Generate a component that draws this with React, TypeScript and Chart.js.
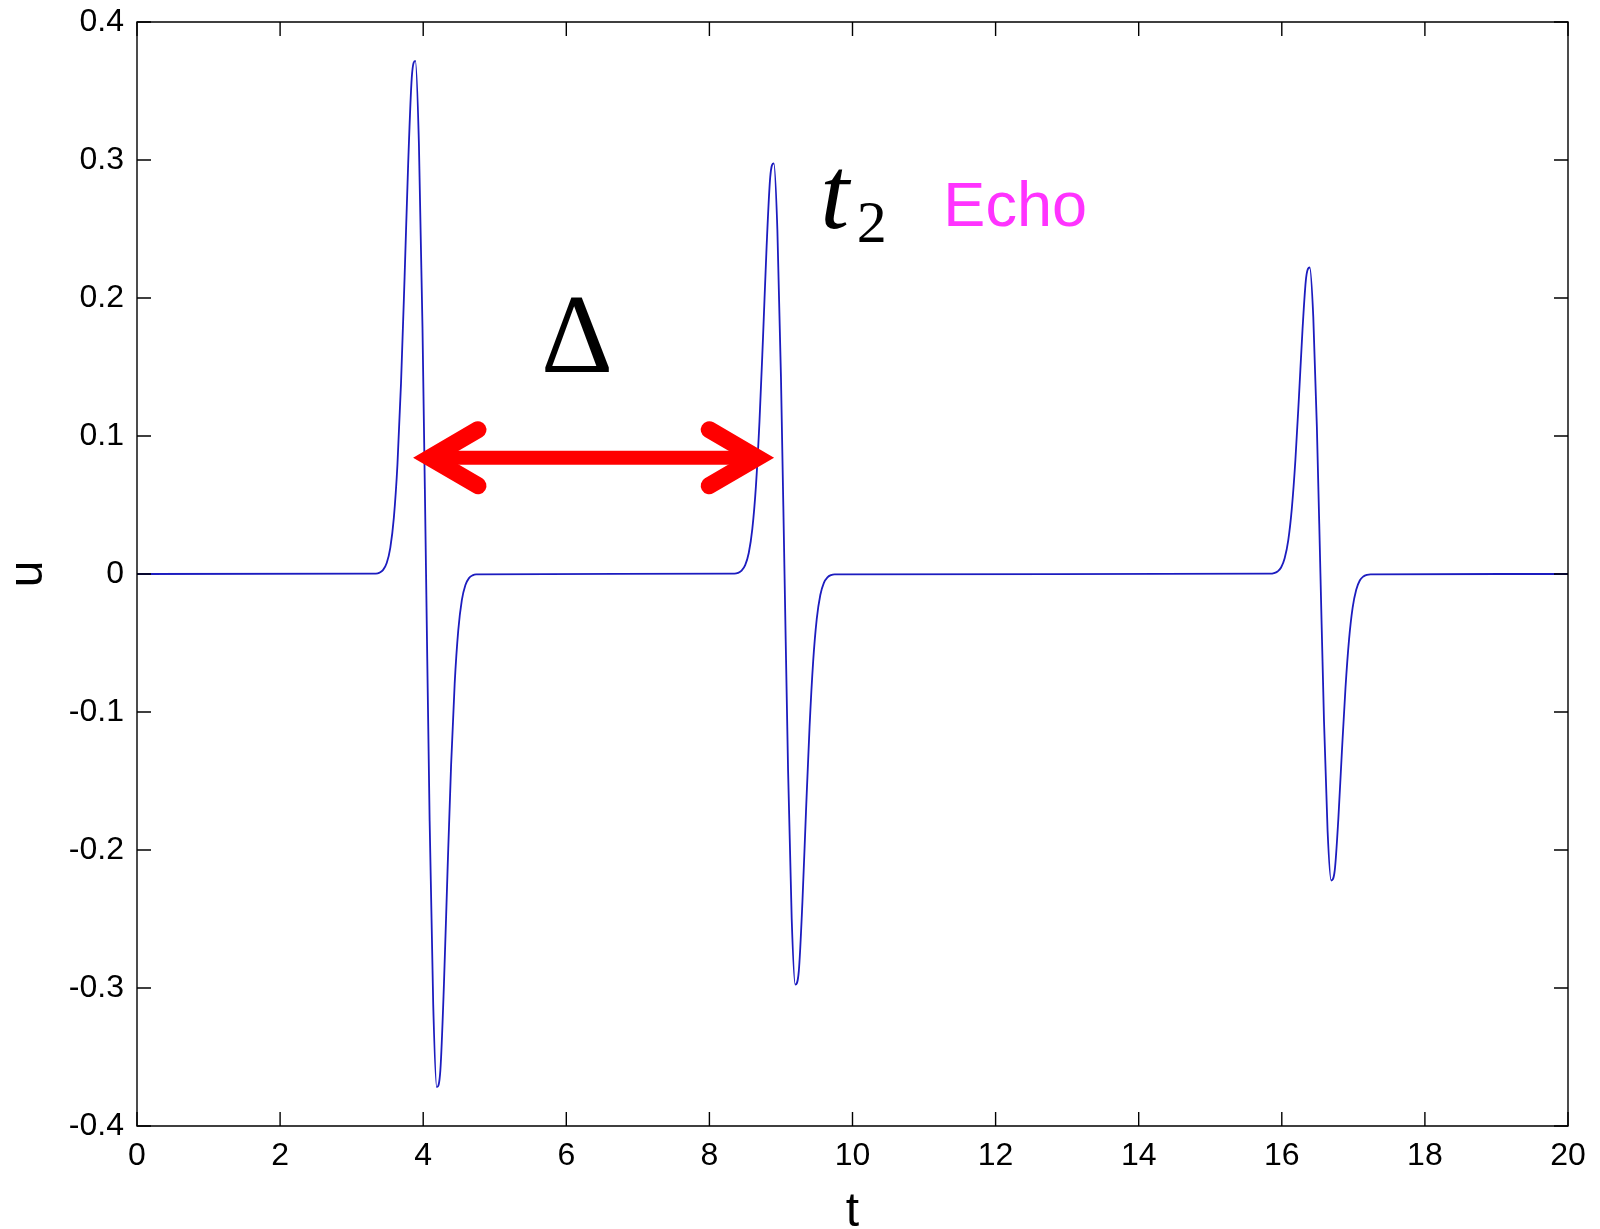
import React, { useEffect, useRef } from 'react';
import { Chart, registerables } from 'chart.js';

Chart.register(...registerables);

// ---------- data ----------
const xTickValues = [0, 2, 4, 6, 8, 10, 12, 14, 16, 18, 20];
const xTickLabels = ['0', '2', '4', '6', '8', '10', '12', '14', '16', '18', '20'];
const yTickValues = [-0.4, -0.3, -0.2, -0.1, 0, 0.1, 0.2, 0.3, 0.4];
const yTickLabels = ['-0.4', '-0.3', '-0.2', '-0.1', '0', '0.1', '0.2', '0.3', '0.4'];

const flatEndsT = [0, 20];

const pulse1T = [3.34, 3.39, 3.44, 3.49, 3.54, 3.59, 3.64, 3.69, 3.74, 3.79, 3.84, 3.89, 3.94, 3.99, 4.04,
  4.09, 4.14, 4.19, 4.24, 4.29, 4.34, 4.39, 4.44, 4.49, 4.54, 4.59, 4.64, 4.69, 4.74];
const pulse1U = [0.0003, 0.0010, 0.0030, 0.0080, 0.0190, 0.0409, 0.0794, 0.1383, 0.2153, 0.2973, 0.3595, 0.3718, 0.3119, 0.1790, 0,
  -0.1790, -0.3119, -0.3718, -0.3595, -0.2973, -0.2153, -0.1383, -0.0794, -0.0409, -0.0190, -0.0080, -0.0030, -0.0010, -0.0003];

const pulse2T = [8.35, 8.40, 8.45, 8.50, 8.55, 8.60, 8.65, 8.70, 8.75, 8.80, 8.85, 8.90, 8.95, 9.00, 9.05,
  9.10, 9.15, 9.20, 9.25, 9.30, 9.35, 9.40, 9.45, 9.50, 9.55, 9.60, 9.65, 9.70, 9.75];
const pulse2U = [0.0003, 0.0008, 0.0024, 0.0064, 0.0152, 0.0327, 0.0635, 0.1106, 0.1722, 0.2378, 0.2876, 0.2975, 0.2495, 0.1432, 0,
  -0.1432, -0.2495, -0.2975, -0.2876, -0.2378, -0.1722, -0.1106, -0.0635, -0.0327, -0.0152, -0.0064, -0.0024, -0.0008, -0.0003];

const pulse3T = [15.84, 15.89, 15.94, 15.99, 16.04, 16.09, 16.14, 16.19, 16.24, 16.29, 16.34, 16.39, 16.44, 16.49, 16.54,
  16.59, 16.64, 16.69, 16.74, 16.79, 16.84, 16.89, 16.94, 16.99, 17.04, 17.09, 17.14, 17.19, 17.24];
const pulse3U = [0.0002, 0.0006, 0.0018, 0.0047, 0.0114, 0.0244, 0.0474, 0.0826, 0.1286, 0.1776, 0.2148, 0.2221, 0.1863, 0.1069, 0,
  -0.1069, -0.1863, -0.2221, -0.2148, -0.1776, -0.1286, -0.0826, -0.0474, -0.0244, -0.0114, -0.0047, -0.0018, -0.0006, -0.0002];

const axisTitleX = 't';
const axisTitleY = 'u';
const deltaText = 'Δ';
const t2Main = 't';
const t2Sub = '2';
const echoText = 'Echo';

// ---------- annotation placement (data units) ----------
const annot = {
  arrowLeftT: 3.843,
  arrowRightT: 8.92,
  arrowU: 0.0843,
  deltaT: 6.15,
  deltaU: 0.1464,
  tMainT: 9.55,
  tMainU: 0.2507,
  tSubT: 10.06,
  tSubU: 0.2406,
  echoT: 11.27,
  echoU: 0.2522,
};

const SANS = "'Liberation Sans', Arial, Helvetica, sans-serif";
const SERIF = "'Liberation Serif', 'Times New Roman', serif";

const framePlugin = {
  id: 'framePlugin',
  afterDatasetsDraw(chart: any) {
    const { ctx, chartArea, scales } = chart;
    const xs = scales.x;
    const ys = scales.y;
    const { left, right, top, bottom } = chartArea;
    const tick = 14;
    ctx.save();
    ctx.strokeStyle = '#000';
    ctx.lineWidth = 1.4;
    ctx.beginPath();
    ctx.rect(left, top, right - left, bottom - top);
    ctx.stroke();
    ctx.beginPath();
    xTickValues.forEach((v) => {
      const px = xs.getPixelForValue(v);
      ctx.moveTo(px, bottom);
      ctx.lineTo(px, bottom - tick);
      ctx.moveTo(px, top);
      ctx.lineTo(px, top + tick);
    });
    yTickValues.forEach((v) => {
      const py = ys.getPixelForValue(v);
      ctx.moveTo(left, py);
      ctx.lineTo(left + tick, py);
      ctx.moveTo(right, py);
      ctx.lineTo(right - tick, py);
    });
    ctx.stroke();

    // red double arrow
    const xl = xs.getPixelForValue(annot.arrowLeftT);
    const xr = xs.getPixelForValue(annot.arrowRightT);
    const ya = ys.getPixelForValue(annot.arrowU);
    ctx.strokeStyle = '#ff0000';
    ctx.lineJoin = 'miter';
    ctx.miterLimit = 10;
    ctx.lineCap = 'butt';
    ctx.lineWidth = 14;
    ctx.beginPath();
    ctx.moveTo(xl + 17, ya);
    ctx.lineTo(xr - 17, ya);
    ctx.stroke();
    ctx.lineWidth = 17;
    ctx.lineCap = 'round';
    ctx.beginPath();
    ctx.moveTo(xl + 66, ya - 28);
    ctx.lineTo(xl + 18, ya);
    ctx.lineTo(xl + 66, ya + 28);
    ctx.stroke();
    ctx.beginPath();
    ctx.moveTo(xr - 66, ya - 28);
    ctx.lineTo(xr - 18, ya);
    ctx.lineTo(xr - 66, ya + 28);
    ctx.stroke();

    // texts
    ctx.textBaseline = 'alphabetic';
    ctx.fillStyle = '#000';
    ctx.font = `112px ${SERIF}`;
    ctx.textAlign = 'center';
    ctx.fillText(deltaText, xs.getPixelForValue(annot.deltaT), ys.getPixelForValue(annot.deltaU));

    ctx.textAlign = 'left';
    ctx.font = `italic 104px ${SERIF}`;
    ctx.fillText(t2Main, xs.getPixelForValue(annot.tMainT), ys.getPixelForValue(annot.tMainU));
    ctx.font = `60px ${SERIF}`;
    ctx.fillText(t2Sub, xs.getPixelForValue(annot.tSubT), ys.getPixelForValue(annot.tSubU));

    ctx.fillStyle = '#ff33ff';
    ctx.font = `63px ${SANS}`;
    ctx.fillText(echoText, xs.getPixelForValue(annot.echoT), ys.getPixelForValue(annot.echoU));

    // axis titles
    ctx.fillStyle = '#000';
    ctx.font = `48px ${SANS}`;
    ctx.textAlign = 'center';
    ctx.fillText(axisTitleX, (left + right) / 2, chart.height - 3);
    ctx.save();
    ctx.translate(42, (top + bottom) / 2);
    ctx.rotate(-Math.PI / 2);
    ctx.fillText(axisTitleY, 0, 0);
    ctx.restore();
    ctx.restore();
  },
};

export default function App() {
  const canvasRef = useRef<HTMLCanvasElement | null>(null);

  useEffect(() => {
    const canvas = canvasRef.current;
    if (!canvas) return;
    const points = [
      { x: flatEndsT[0], y: 0 },
      ...pulse1T.map((t, i) => ({ x: t, y: pulse1U[i] })),
      ...pulse2T.map((t, i) => ({ x: t, y: pulse2U[i] })),
      ...pulse3T.map((t, i) => ({ x: t, y: pulse3U[i] })),
      { x: flatEndsT[1], y: 0 },
    ];
    const chart = new Chart(canvas, {
      type: 'line',
      data: {
        datasets: [
          {
            data: points,
            borderColor: '#1c1cbf',
            borderWidth: 1.8,
            pointRadius: 0,
            fill: false,
            cubicInterpolationMode: 'monotone',
          },
        ],
      },
      options: {
        responsive: false,
        animation: false,
        devicePixelRatio: 1,
        layout: { padding: { top: 22, right: 32, bottom: 0, left: 0 } },
        plugins: { legend: { display: false }, tooltip: { enabled: false }, title: { display: false } },
        scales: {
          x: {
            type: 'linear',
            min: 0,
            max: 20,
            afterBuildTicks: (s: any) => {
              s.ticks = xTickValues.map((v) => ({ value: v }));
            },
            afterFit: (s: any) => {
              s.height = 103;
              s.paddingLeft = 0;
              s.paddingRight = 0;
              s.paddingTop = 0;
              s.paddingBottom = 0;
            },
            ticks: {
              autoSkip: false,
              maxRotation: 0,
              padding: 11,
              color: '#000',
              font: { family: SANS, size: 32 },
              callback: (_v: any, i: number) => xTickLabels[i],
            },
            grid: { display: false, drawTicks: false },
            border: { display: false },
          },
          y: {
            type: 'linear',
            min: -0.4,
            max: 0.4,
            afterBuildTicks: (s: any) => {
              s.ticks = yTickValues.map((v) => ({ value: v }));
            },
            afterFit: (s: any) => {
              s.width = 137;
              s.paddingLeft = 0;
              s.paddingRight = 0;
              s.paddingTop = 0;
              s.paddingBottom = 0;
            },
            ticks: {
              autoSkip: false,
              padding: 13,
              color: '#000',
              font: { family: SANS, size: 32 },
              callback: (_v: any, i: number) => yTickLabels[i],
            },
            grid: { display: false, drawTicks: false },
            border: { display: false },
          },
        },
      },
      plugins: [framePlugin],
    });
    return () => chart.destroy();
  }, []);

  return (
    <div style={{ position: 'absolute', left: 0, top: 0, width: 1600, height: 1229, background: '#fff' }}>
      <canvas ref={canvasRef} width={1600} height={1229} style={{ display: 'block' }} />
    </div>
  );
}
